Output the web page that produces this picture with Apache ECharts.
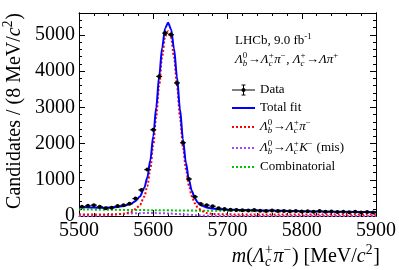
<!DOCTYPE html>
<html><head><meta charset="utf-8">
<script src="https://cdn.jsdelivr.net/npm/echarts@6/dist/echarts.min.js"></script>
<style>html,body{margin:0;padding:0;background:#fff}#c{width:399px;height:270px}</style>
</head><body><div id="c"></div>
<script>
// ---- data ----
const binCenters = [5504,5512,5520,5528,5536,5544,5552,5560,5568,5576,5584,5592,5600,5608,5616,5624,5632,5640,5648,5656,5664,5672,5680,5688,5696,5704,5712,5720,5728,5736,5744,5752,5760,5768,5776,5784,5792,5800,5808,5816,5824,5832,5840,5848,5856,5864,5872,5880,5888,5896];
const dataCounts = [257,280,300,255,215,225,275,300,335,480,720,1280,2380,3850,5045,5000,3670,2020,1020,530,330,300,270,215,190,170,165,160,150,165,145,140,155,135,140,130,140,125,130,120,135,115,125,110,120,105,115,100,110,100];

const totalMass = [5500,5510,5520,5530,5540,5550,5560,5570,5576,5582,5588,5592,5596,5600,5604,5608,5612,5616,5620,5624,5628,5632,5636,5640,5644,5648,5652,5656,5660,5666,5672,5680,5690,5700,5720,5750,5800,5850,5900];
const totalFit  = [250,240,232,228,232,245,275,340,410,540,780,1060,1530,2200,3000,3860,4650,5180,5330,5150,4620,3830,2950,2120,1470,1000,690,490,370,280,235,205,185,175,163,150,133,118,105];

const sigMass = [5500,5520,5540,5550,5560,5570,5576,5582,5588,5592,5596,5600,5604,5608,5612,5616,5620,5624,5628,5632,5636,5640,5644,5648,5652,5656,5660,5666,5672,5680,5700,5750,5800,5900];
const sigFit  = [45,40,42,48,60,110,190,300,540,820,1290,1950,2750,3600,4400,4950,5100,4920,4380,3600,2730,1920,1290,840,540,350,230,130,80,55,45,42,40,38];

const misMass = [5500,5520,5540,5560,5580,5600,5620,5640,5660,5680,5700,5900];
const misFit  = [0,5,20,60,78,80,70,45,20,5,0,0];

const combMass = [5500,5600,5700,5800,5900];
const combFit  = [180,160,140,120,105];

const xTickLabels = ['5500','5600','5700','5800','5900'];
const yTickLabels = ['0','1000','2000','3000','4000','5000'];

// ---- helpers ----
const FF = "'Liberation Serif','Times New Roman',serif";
const cv = document.createElement('canvas').getContext('2d');
function fstr(sz,it){return (it?'italic ':'')+sz+'px '+FF;}
function meas(t,sz,it){cv.font=fstr(sz,it);return cv.measureText(t).width;}
function richText(pieces,size,x,y,align,rotation){
  const els=[]; let cx=0;
  for(const p of pieces){
    if(p.t!==undefined){els.push({x:cx,y:0,t:p.t,sz:size,i:p.i});cx+=meas(p.t,size,p.i);}
    else{
      const ss=size*0.68; let w=0;
      if(p.sup!==undefined){els.push({x:cx,y:-size*0.34,t:p.sup,sz:ss,i:p.si});w=Math.max(w,meas(p.sup,ss,p.si));}
      if(p.sub!==undefined){els.push({x:cx,y:size*0.26,t:p.sub,sz:ss,i:p.bi});w=Math.max(w,meas(p.sub,ss,p.bi));}
      cx+=w+size*0.04;
    }
  }
  const off = align==='right'?-cx:(align==='center'?-cx/2:0);
  return {type:'group',x:x,y:y,rotation:rotation||0,silent:true,
    children:els.map(e=>({type:'text',x:e.x+off,y:e.y,
      style:{text:e.t,fontSize:e.sz,fontFamily:FF,fontStyle:e.i?'italic':'normal',fill:'#000',
             align:'left',verticalAlign:'middle',textAlign:'left',textVerticalAlign:'middle'}}))};
}
const LB = [{t:'Λ',i:1},{sup:'0',sub:'b',bi:1}];
const LC = [{t:'Λ',i:1},{sup:'+',sub:'c',bi:1}];

const BLUE='#0000ff', RED='#ff0000', PURPLE='#a347ff', GREEN='#00c400';
const lx1=232, lx2=255, ltx=260, LS=13;

const graphics = [
  richText([{t:'Candidates / (8 MeV/'},{t:'c',i:1},{sup:'2'},{t:')'}],20,15,13,'right',Math.PI/2),
  richText([{t:'m',i:1},{t:'('},...LC,{t:'π',i:1},{sup:'−'},{t:') [MeV/'},{t:'c',i:1},{sup:'2'},{t:']'}],20,380,257,'right'),
  richText([{t:'LHCb, 9.0 fb'},{sup:'-1'}],LS,235,41,'left'),
  richText([...LB,{t:'→'},...LC,{t:'π',i:1},{sup:'−'},{t:', '},...LC,{t:'→'},{t:'Λπ',i:1},{sup:'+'}],LS,235,60,'left'),
  // legend: Data
  {type:'line',silent:true,shape:{x1:lx1,y1:90,x2:lx2,y2:90},style:{stroke:'#000',lineWidth:1}},
  {type:'line',silent:true,shape:{x1:243.5,y1:85,x2:243.5,y2:95},style:{stroke:'#000',lineWidth:1}},
  {type:'line',silent:true,shape:{x1:241.5,y1:85,x2:245.5,y2:85},style:{stroke:'#000',lineWidth:1}},
  {type:'line',silent:true,shape:{x1:241.5,y1:95,x2:245.5,y2:95},style:{stroke:'#000',lineWidth:1}},
  {type:'circle',silent:true,shape:{cx:243.5,cy:90,r:2},style:{fill:'#000'}},
  richText([{t:'Data'}],LS,ltx,90,'left'),
  {type:'line',silent:true,shape:{x1:lx1,y1:108,x2:lx2,y2:108},style:{stroke:BLUE,lineWidth:2}},
  richText([{t:'Total fit'}],LS,ltx,108,'left'),
  {type:'line',silent:true,shape:{x1:lx1,y1:127,x2:lx2,y2:127},style:{stroke:RED,lineWidth:2,lineDash:[2,2]}},
  richText([...LB,{t:'→'},...LC,{t:'π',i:1},{sup:'−'}],LS,ltx,127,'left'),
  {type:'line',silent:true,shape:{x1:lx1,y1:148,x2:lx2,y2:148},style:{stroke:PURPLE,lineWidth:2,lineDash:[2,2]}},
  richText([...LB,{t:'→'},...LC,{t:'K',i:1},{sup:'−'},{t:' (mis)'}],LS,ltx,148,'left'),
  {type:'line',silent:true,shape:{x1:lx1,y1:167,x2:lx2,y2:167},style:{stroke:GREEN,lineWidth:2,lineDash:[2,2]}},
  richText([{t:'Combinatorial'}],LS,ltx,167,'left')
];

function xAx(pos,labels){
  return {type:'value',min:5500,max:5900,interval:100,position:pos,
    axisLine:{show:true,onZero:false,lineStyle:{color:'#000',width:1}},
    axisTick:{show:true,inside:true,length:6,lineStyle:{color:'#000',width:1}},
    minorTick:{show:true,splitNumber:5,length:3,lineStyle:{color:'#000',width:1}},
    axisLabel:{show:labels,color:'#000',fontFamily:FF,fontSize:20,margin:5,
      formatter:v=>{const s=String(v);return xTickLabels.indexOf(s)>=0?s:'';}},
    splitLine:{show:false},minorSplitLine:{show:false}};
}
function yAx(pos,labels,interval,len){
  return {type:'value',min:0,max:5600,interval:interval,position:pos,
    axisLine:{show:true,onZero:false,lineStyle:{color:'#000',width:1}},
    axisTick:{show:true,inside:true,length:len,lineStyle:{color:'#000',width:1}},
    axisLabel:{show:labels,color:'#000',fontFamily:FF,fontSize:20,margin:4,showMaxLabel:false,
      formatter:v=>{const s=String(v);return yTickLabels.indexOf(s)>=0?s:'';}},
    splitLine:{show:false}};
}

const chart = echarts.init(document.getElementById('c'),null,{renderer:'canvas'});
chart.setOption({
  animation:false,
  backgroundColor:'#fff',
  grid:{left:79,right:20,top:13,bottom:54,containLabel:false},
  xAxis:[xAx('bottom',true),xAx('top',false)],
  yAxis:[yAx('left',true,1000,6),yAx('left',false,200,3),yAx('right',false,1000,6),yAx('right',false,200,3)],
  graphic:graphics,
  series:[
    {type:'line',xAxisIndex:0,yAxisIndex:0,data:combMass.map((m,i)=>[m,combFit[i]]),showSymbol:false,smooth:0.3,
     lineStyle:{color:GREEN,width:2,type:[2,2]},z:3},
    {type:'line',xAxisIndex:0,yAxisIndex:0,data:misMass.map((m,i)=>[m,misFit[i]]),showSymbol:false,smooth:0.3,
     lineStyle:{color:PURPLE,width:2,type:[2,2]},z:3},
    {type:'line',xAxisIndex:0,yAxisIndex:0,data:sigMass.map((m,i)=>[m,sigFit[i]]),showSymbol:false,smooth:0.3,smoothMonotone:'x',
     lineStyle:{color:RED,width:2,type:[2,2]},z:3},
    {type:'line',xAxisIndex:0,yAxisIndex:0,data:totalMass.map((m,i)=>[m,totalFit[i]]),showSymbol:false,smooth:0.3,smoothMonotone:'x',
     lineStyle:{color:BLUE,width:2},z:4},
    {type:'custom',xAxisIndex:0,yAxisIndex:0,clip:true,z:5,
     data:binCenters.map((m,i)=>[m,dataCounts[i]]),
     encode:{x:0,y:1},
     renderItem:function(params,api){
       const x=api.value(0), y=api.value(1), e=Math.sqrt(y);
       const p=api.coord([x,y]), t=api.coord([x,y+e]), b=api.coord([x,y-e]);
       const l=api.coord([x-4,y]), r=api.coord([x+4,y]);
       const st={stroke:'#000',lineWidth:1.2};
       return {type:'group',children:[
         {type:'line',shape:{x1:p[0],y1:t[1],x2:p[0],y2:b[1]},style:st},
         {type:'line',shape:{x1:l[0],y1:p[1],x2:r[0],y2:p[1]},style:st},
         {type:'circle',shape:{cx:p[0],cy:p[1],r:2},style:{fill:'#000'}}
       ]};
     }}
  ]
});
</script>
</body></html>
